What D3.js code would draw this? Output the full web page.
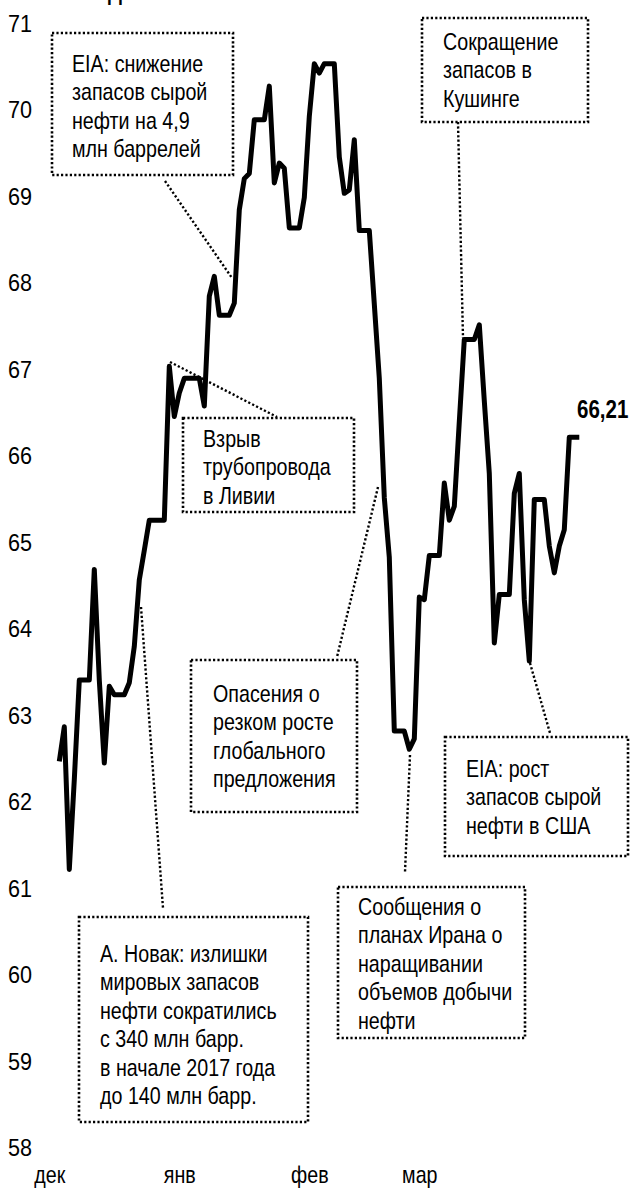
<!DOCTYPE html>
<html><head><meta charset="utf-8">
<script src="https://cdn.jsdelivr.net/npm/d3@7"></script>
<style>body{margin:0;background:#fff} svg{display:block}</style>
</head><body><svg id="c" width="633" height="1192"></svg>
<script>
// ---- data ----
const firstDate = "2017-12-04";
const lastDate = "2018-03-18";
// daily values (weekends/holidays hold the previous close)
const prices = [
  62.46, 62.86, 61.21, 62.25, 63.40, 63.40, 63.40,            // Dec 4-10
  64.68, 63.40, 62.44, 63.33, 63.23, 63.23, 63.23,            // Dec 11-17
  63.37, 63.79, 64.56, 64.90, 65.25, 65.25, 65.25,            // Dec 18-24
  65.25, 67.03, 66.45, 66.72, 66.89, 66.89, 66.89,            // Dec 25-31
  66.89, 66.57, 67.84, 68.07, 67.62, 67.62, 67.62,            // Jan 1-7
  67.76, 68.84, 69.20, 69.26, 69.88, 69.88, 69.88,            // Jan 8-14
  70.27, 69.15, 69.38, 69.32, 68.63, 68.63, 68.63,            // Jan 15-21
  68.98, 69.92, 70.53, 70.42, 70.53, 70.53, 70.53,            // Jan 22-28
  69.45, 69.03, 69.07, 69.65, 68.60, 68.60, 68.60,            // Jan 29-Feb 4
  67.75, 66.89, 65.51, 64.82, 62.81, 62.81, 62.81,            // Feb 5-11
  62.60, 62.72, 64.36, 64.33, 64.84, 64.84, 64.84,            // Feb 12-18
  65.68, 65.25, 65.41, 66.39, 67.34, 67.34, 67.34,            // Feb 19-25
  67.51, 66.63, 65.79, 63.83, 64.39, 64.39, 64.39,            // Feb 26-Mar 4
  65.56, 65.79, 64.33, 63.62, 65.49, 65.49, 65.49,            // Mar 5-11
  64.95, 64.64, 64.95, 65.14, 66.21, 66.21, 66.21             // Mar 12-18
];
const yTicks = [58, 59, 60, 61, 62, 63, 64, 65, 66, 67, 68, 69, 70, 71];
const xTickLabels = ["дек", "янв", "фев", "мар"];
const xTickDates = ["2017-12-02", "2017-12-28", "2018-01-23", "2018-02-14"];
const lastValueLabel = "66,21";
const titleText = "Динамика";

const notes = [
  {lines: ["EIA: снижение", "запасов сырой", "нефти на 4,9", "млн баррелей"]},
  {lines: ["Сокращение", "запасов в", "Кушинге"]},
  {lines: ["Взрыв", "трубопровода", "в Ливии"]},
  {lines: ["Опасения о", "резком росте", "глобального", "предложения"]},
  {lines: ["Сообщения о", "планах Ирана о", "наращивании", "объемов добычи", "нефти"]},
  {lines: ["EIA: рост", "запасов сырой", "нефти в США"]},
  {lines: ["А. Новак: излишки", "мировых запасов", "нефти сократились", "с 340 млн барр.", "в начале 2017 года", "до 140 млн барр."]}
];

// ---- layout (pixels) ----
const boxes = [
  {x: 52, y: 33, w: 181, h: 142, tx: 72, ty: 72, link: [165, 181, 232, 278]},
  {x: 422, y: 18, w: 166, h: 104, tx: 443, ty: 50, link: [458, 122, 463, 338]},
  {x: 183, y: 418, w: 171, h: 94, tx: 203, ty: 447, link: [170, 362, 277, 417]},
  {x: 191, y: 660, w: 166, h: 152, tx: 213, ty: 702, link: [378, 487, 337, 657]},
  {x: 338, y: 887, w: 187, h: 151, tx: 358, ty: 915, link: [410, 755, 405, 872]},
  {x: 445, y: 737, w: 183, h: 119, tx: 466, ty: 777, link: [530, 663, 550, 733]},
  {x: 79, y: 917, w: 229, h: 205, tx: 100, ty: 962, link: [141, 607, 163, 908]}
];
const LH = 28.4, FS = 24, SX = 0.82;
const FONT = "'Liberation Sans', Arial, sans-serif";

const svg = d3.select("#c");
const parse = d3.utcParse("%Y-%m-%d");
const d0 = parse(firstDate), d1 = parse(lastDate);
const data = prices.map((v, i) => ({date: d3.utcDay.offset(d0, i), v}));

const x = d3.scaleUtc().domain([d0, d1]).range([59.3, 579.3]);
const y = d3.scaleLinear().domain([58, 71]).range([1147, 23]);

function txt(g, px, py, s, size, weight, anchor) {
  return g.append("text")
    .attr("transform", `translate(${px},${py}) scale(${SX},1)`)
    .attr("font-family", FONT).attr("font-size", size)
    .attr("font-weight", weight || "normal")
    .attr("text-anchor", anchor || "start")
    .attr("fill", "#000").text(s);
}

// title (cut off at the top, as in the original)
txt(svg, 108, 0, titleText, FS, "bold");

// y axis
const yAxis = svg.append("g").attr("transform", "translate(8,0)")
  .call(d3.axisLeft(y).tickValues(yTicks).tickSize(0).tickFormat(d3.format("d")));
yAxis.select(".domain").remove();
yAxis.selectAll(".tick text")
  .attr("x", 0).attr("dy", null).attr("y", 8.5)
  .attr("text-anchor", "start")
  .attr("font-family", FONT).attr("font-size", 24).attr("fill", "#000")
  .attr("transform", "scale(0.9,1)");

// x axis
const xAxis = svg.append("g").attr("transform", "translate(0,1183)")
  .call(d3.axisBottom(x).tickValues(xTickDates.map(parse)).tickSize(0)
    .tickFormat((d, i) => xTickLabels[i]));
xAxis.select(".domain").remove();
xAxis.selectAll(".tick text")
  .attr("y", 0).attr("dy", null)
  .attr("font-family", FONT).attr("font-size", FS).attr("fill", "#000")
  .attr("transform", `scale(${SX},1)`);

// connectors
svg.append("g").selectAll("line").data(boxes).join("line")
  .attr("x1", d => d.link[0]).attr("y1", d => d.link[1])
  .attr("x2", d => d.link[2]).attr("y2", d => d.link[3])
  .attr("stroke", "#000").attr("stroke-width", 2.4)
  .attr("stroke-dasharray", "2.2,2.2");

// price line
svg.append("path").datum(data)
  .attr("fill", "none").attr("stroke", "#000").attr("stroke-width", 5)
  .attr("stroke-linejoin", "round")
  .attr("d", d3.line().x(d => x(d.date)).y(d => y(d.v)));

// annotation boxes
boxes.forEach((b, i) => {
  const g = svg.append("g");
  g.append("rect").attr("x", b.x).attr("y", b.y).attr("width", b.w).attr("height", b.h)
    .attr("fill", "#fff").attr("stroke", "#000").attr("stroke-width", 2.6)
    .attr("stroke-dasharray", "2.2,2.2");
  notes[i].lines.forEach((l, j) => txt(g, b.tx, b.ty + j * LH, l, FS));
});

// last value label
txt(svg, 577, 418, lastValueLabel, 25, "bold");
</script></body></html>
